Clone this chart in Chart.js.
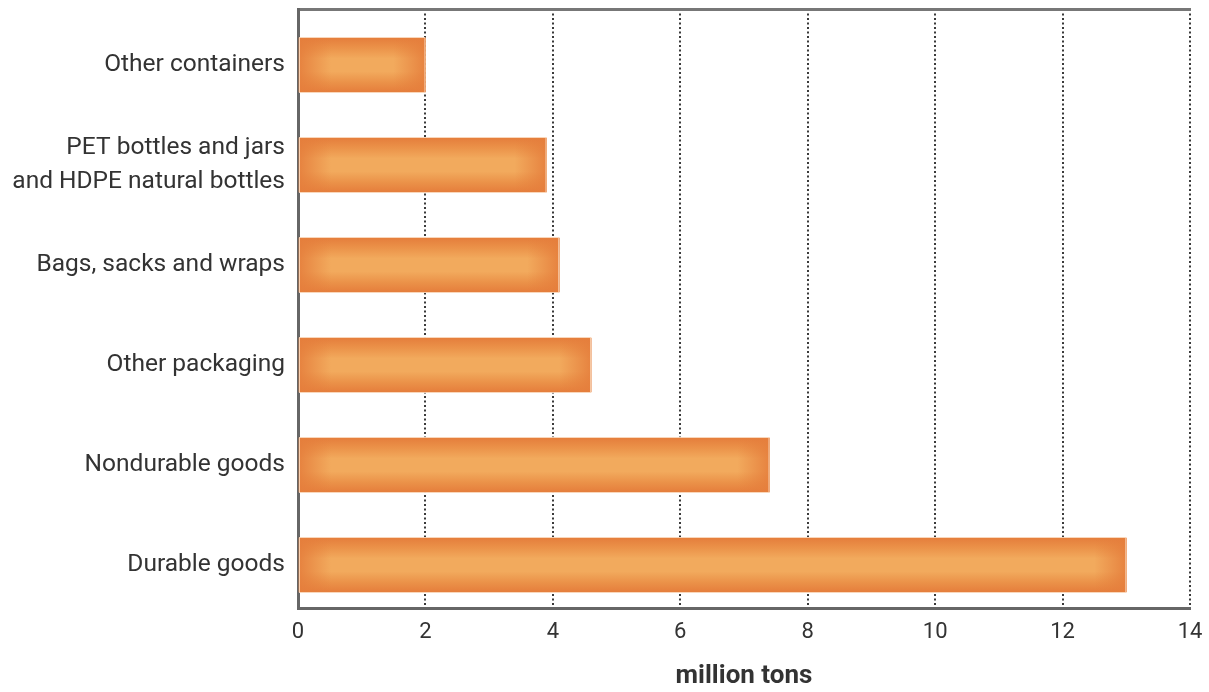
<!DOCTYPE html>
<html>
<head>
<meta charset="utf-8">
<script src="https://cdn.jsdelivr.net/npm/chart.js@4/dist/chart.umd.min.js"></script>
<style>
  html, body { margin: 0; padding: 0; background: #fff; }
  #wrap { width: 1209px; height: 692px; position: relative; }
</style>
</head>
<body>
<div id="wrap"><canvas id="plasticsChart"></canvas></div>
<script>
// Plastics in MSW by product category

const categories = [
  'Other containers',
  ['PET bottles and jars', 'and HDPE natural bottles'],
  'Bags, sacks and wraps',
  'Other packaging',
  'Nondurable goods',
  'Durable goods'
];
const tons = [2.0, 3.9, 4.1, 4.6, 7.4, 13.0];
const xTicks = [0, 2, 4, 6, 8, 10, 12, 14];
const axisTitle = 'million tons';

const edgeOrange = '#e57e3c';
const midOrange = '#f2aa5d';

// soft "pillow" shading on each bar, like the printed original
const barShading = {
  id: 'barShading',
  afterDatasetsDraw(chart) {
    const ctx = chart.ctx;
    const meta = chart.getDatasetMeta(0);
    meta.data.forEach(bar => {
      const { x, y, base, height } = bar.getProps(['x', 'y', 'base', 'height'], true);
      const left = Math.min(base, x);
      const right = Math.max(base, x);
      const top = y - height / 2;
      const w = right - left;

      ctx.save();
      const vg = ctx.createLinearGradient(0, top, 0, top + height);
      vg.addColorStop(0, edgeOrange);
      vg.addColorStop(0.18, '#eb9249');
      vg.addColorStop(0.38, midOrange);
      vg.addColorStop(0.62, midOrange);
      vg.addColorStop(0.82, '#eb9249');
      vg.addColorStop(1, edgeOrange);
      ctx.fillStyle = vg;
      ctx.fillRect(left, top, w, height);

      const fade = Math.min(32, w / 2);
      const lg = ctx.createLinearGradient(left, 0, left + fade, 0);
      lg.addColorStop(0, 'rgba(229,126,60,0.9)');
      lg.addColorStop(1, 'rgba(229,126,60,0)');
      ctx.fillStyle = lg;
      ctx.fillRect(left, top, fade, height);

      const rg = ctx.createLinearGradient(right - fade, 0, right, 0);
      rg.addColorStop(0, 'rgba(229,126,60,0)');
      rg.addColorStop(1, 'rgba(229,126,60,0.9)');
      ctx.fillStyle = rg;
      ctx.fillRect(right - fade, top, fade, height);

      ctx.strokeStyle = 'rgba(249,214,185,0.9)';
      ctx.lineWidth = 1;
      ctx.strokeRect(left + 0.5, top - 0.5, w - 1, height + 1);
      ctx.restore();
    });
  }
};

Chart.defaults.font.family = "Roboto, 'Open Sans', sans-serif";
Chart.defaults.color = '#333';

new Chart(document.getElementById('plasticsChart'), {
  type: 'bar',
  data: {
    datasets: [{
      data: tons.map((v, i) => ({ x: v, y: i })),
      backgroundColor: edgeOrange,
      borderWidth: 0,
      barThickness: 54
    }]
  },
  options: {
    indexAxis: 'y',
    responsive: true,
    maintainAspectRatio: false,
    animation: false,
    layout: { padding: { top: 9, right: 19, bottom: 0, left: 0 } },
    plugins: { legend: { display: false }, tooltip: { enabled: false } },
    scales: {
      x: {
        type: 'linear',
        position: 'bottom',
        min: 0,
        max: 14,
        afterBuildTicks: axis => { axis.ticks = xTicks.map(v => ({ value: v })); },
        afterFit: axis => {
          axis.height = 84;
          axis.paddingLeft = 0;
          axis.paddingRight = 0;
        },
        grid: {
          color: c => (c.tick && c.tick.value === 0) ? 'rgba(0,0,0,0)' : '#3a3a3a',
          lineWidth: 2,
          drawTicks: false,
          tickLength: 0
        },
        border: { display: true, color: '#666', width: 3, dash: [2, 2.5] },
        ticks: { font: { size: 22 }, color: '#333', padding: 11 },
        title: {
          display: true,
          text: axisTitle,
          color: '#333',
          font: { size: 26, weight: 'bold' },
          padding: { top: 0, bottom: 0 }
        }
      },
      x2: {
        type: 'linear',
        position: 'top',
        min: 0,
        max: 14,
        afterFit: axis => {
          axis.height = 0;
          axis.paddingLeft = 0;
          axis.paddingRight = 0;
        },
        grid: { display: false, drawTicks: false },
        ticks: { display: false },
        border: { display: true, color: '#777', width: 3 }
      },
      y: {
        type: 'linear',
        reverse: true,
        offset: false,
        min: -0.56,
        max: 5.43,
        afterBuildTicks: axis => { axis.ticks = categories.map((c, i) => ({ value: i })); },
        afterFit: axis => {
          axis.width = 298;
          axis.paddingTop = 0;
          axis.paddingBottom = 0;
        },
        grid: { display: false, drawTicks: false, tickLength: 0 },
        border: { display: true, color: '#666', width: 3 },
        ticks: {
          font: { size: 24.5, lineHeight: 1.4 },
          color: '#333',
          padding: 13,
          callback: v => categories[v] ?? ''
        }
      }
    }
  },
  plugins: [barShading]
});
</script>
</body>
</html>
